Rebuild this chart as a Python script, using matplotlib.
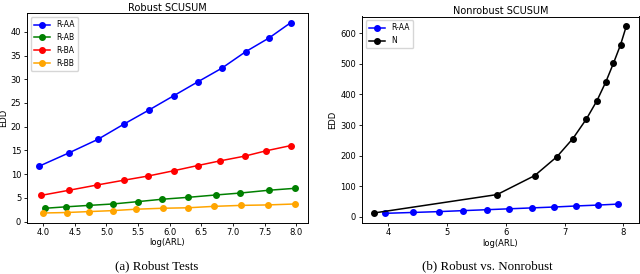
import matplotlib
matplotlib.use("Agg")
import matplotlib.pyplot as plt

# Left panel data
x_raa = [3.94, 4.41, 4.86, 5.27, 5.67, 6.06, 6.45, 6.82, 7.20, 7.57, 7.91]
y_raa = [11.7, 14.5, 17.3, 20.5, 23.5, 26.5, 29.5, 32.3, 35.8, 38.7, 41.9]
x_rba = [3.96, 4.41, 4.85, 5.27, 5.66, 6.06, 6.44, 6.80, 7.19, 7.52, 7.91]
y_rba = [5.5, 6.6, 7.7, 8.7, 9.6, 10.7, 11.8, 12.8, 13.8, 14.9, 16.0]
x_rab = [4.03, 4.36, 4.72, 5.10, 5.50, 5.88, 6.29, 6.73, 7.11, 7.57, 7.98]
y_rab = [2.8, 3.1, 3.4, 3.7, 4.2, 4.7, 5.1, 5.6, 6.0, 6.6, 7.0]
x_rbb = [4.00, 4.37, 4.73, 5.10, 5.47, 5.89, 6.29, 6.70, 7.12, 7.55, 7.98]
y_rbb = [1.8, 1.9, 2.1, 2.3, 2.6, 2.8, 2.9, 3.2, 3.4, 3.5, 3.7]

# Right panel data
x_n = [3.76, 5.85, 6.49, 6.87, 7.14, 7.37, 7.55, 7.70, 7.83, 7.95, 8.05]
y_n = [13, 73, 135, 197, 256, 320, 380, 441, 502, 562, 624]

fig = plt.figure(figsize=(6.4, 2.74), dpi=100)
W, H = 640, 274

def ax_at(l, t, r, b):
    return fig.add_axes([l / W, 1 - b / H, (r - l) / W, (b - t) / H])

ax1 = ax_at(26.7, 13.3, 307.7, 222.5)
ax2 = ax_at(361.7, 16.5, 639.0, 222.7)

kw = dict(marker='o', markersize=4, linewidth=1.1)
ax1.plot(x_raa, y_raa, color='blue', label='R-AA', **kw)
ax1.plot(x_rab, y_rab, color='green', label='R-AB', **kw)
ax1.plot(x_rba, y_rba, color='red', label='R-BA', **kw)
ax1.plot(x_rbb, y_rbb, color='orange', label='R-BB', **kw)
ax1.set_title('Robust SCUSUM', fontsize=7, pad=2)
ax1.set_xlabel('log(ARL)', fontsize=6, labelpad=1)
ax1.set_ylabel('EDD', fontsize=6, labelpad=2)
ax1.set_xticks([4.0, 4.5, 5.0, 5.5, 6.0, 6.5, 7.0, 7.5, 8.0])
ax1.set_yticks([0, 5, 10, 15, 20, 25, 30, 35, 40])
ax1.legend(loc='upper left', fontsize=5.5, handlelength=2.2)

ax2.plot(x_raa, y_raa, color='blue', label='R-AA', **kw)
ax2.plot(x_n, y_n, color='black', label='N', **kw)
ax2.set_title('Nonrobust SCUSUM', fontsize=7, pad=2)
ax2.set_xlabel('log(ARL)', fontsize=6, labelpad=1)
ax2.set_ylabel('EDD', fontsize=6, labelpad=2)
ax2.set_xticks([4, 5, 6, 7, 8])
ax2.set_yticks([0, 100, 200, 300, 400, 500, 600])
ax2.legend(loc='upper left', fontsize=5.5, handlelength=2.2)

for ax in (ax1, ax2):
    ax.tick_params(labelsize=6, length=2.5, width=0.6, pad=1.5)
    for s in ax.spines.values():
        s.set_linewidth(0.7)

fig.text(157 / W, 1 - 266 / H, '(a) Robust Tests', ha='center', va='center',
         family='Liberation Serif', fontsize=9.3)
fig.text(487 / W, 1 - 266 / H, '(b) Robust vs. Nonrobust', ha='center', va='center',
         family='Liberation Serif', fontsize=9.3)

fig.savefig('out.png', dpi=100)
